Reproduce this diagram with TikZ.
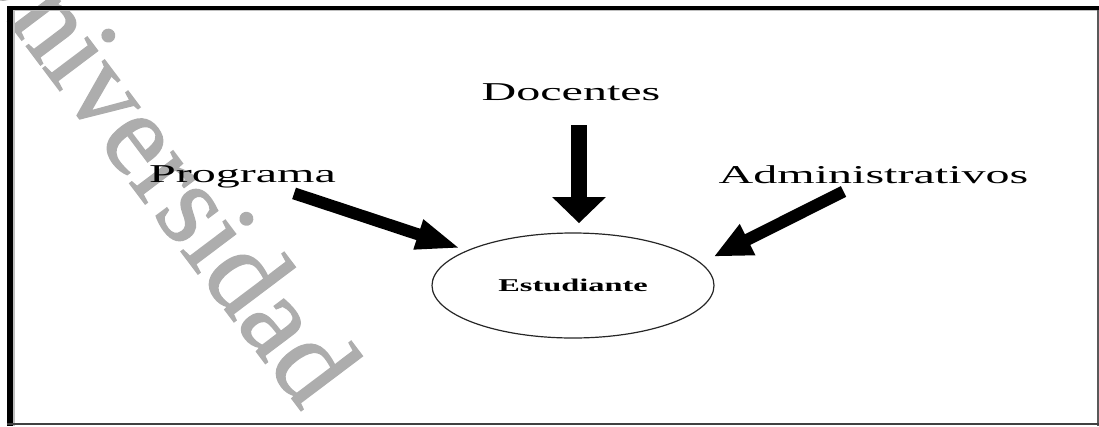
\documentclass[tikz,border=0pt]{standalone}
\usepackage{fontspec}
\usepackage{graphicx}
\setmainfont{Liberation Serif}
\newfontface\marcafont[FakeBold=1.2]{Liberation Serif}
\usetikzlibrary{arrows.meta,shapes.geometric}

\definecolor{marcagris}{HTML}{ADADAD}

\begin{document}
\begin{tikzpicture}[x=1pt,y=-1pt,
    etiqueta/.style = {inner sep=0mm,anchor=base,xscale=1.87,font=\fontsize{25.7}{30}\selectfont},
    flecha/.style = {line width=12pt},
    marca/.style = {inner sep=0mm,text=marcagris,font=\fontsize{118}{118}\selectfont\marcafont}]
\useasboundingbox (0,0) rectangle (1099,426);
\node[marca,anchor=base east,rotate=-53] (wm) at (302,412) {Universidad};
\fill (7,6) rectangle (13,426);
\fill (7,6) rectangle (1099,9.5);
\fill[gray!50] (13,9.5) rectangle (15,426);
\fill[gray!50] (13,9.5) rectangle (1096.5,10.5);
\fill[black!65] (1096.7,9.5) rectangle (1099,426);
\fill[black!75] (7,423.4) rectangle (1099,425.4);
\node[etiqueta] (doc) at (571,100) {Docentes};
\node[etiqueta] (prog) at (242.5,182) {Programa};
\node[etiqueta] (adm) at (873.5,183) {Administrativos};
\node[ellipse,draw=black!85,line width=1.2pt,minimum width=282pt,minimum height=105pt,inner sep=0mm] (est) at (573,285.5)
    {\fontsize{18}{20}\selectfont\scalebox{1.8}[1]{\bfseries Estudiante}};
\draw[flecha,line width=16pt,-{Triangle[length=26pt,width=52pt]},shorten <=25pt,shorten >=9.3pt] ([xshift=8pt]doc.south) -- ([xshift=6pt]est.north);
\draw[flecha,-{Triangle[length=45pt,width=28pt]},shorten <=18pt,shorten >=6pt] (prog) -- (est);
\draw[flecha,-{Triangle[length=38pt,width=32pt]},shorten >=14pt] ([xshift=-30pt,yshift=-8pt]adm.south) -- (est.10);
\end{tikzpicture}
\end{document}
